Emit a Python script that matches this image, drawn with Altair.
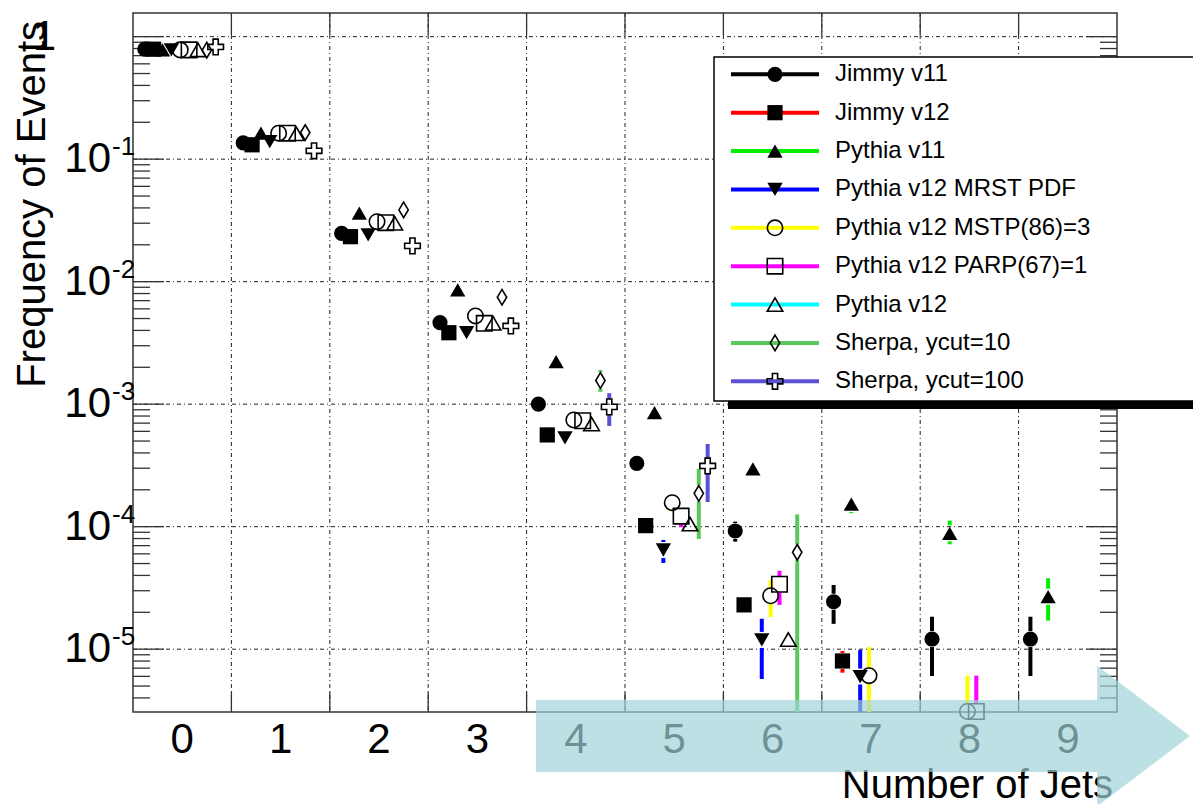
import altair as alt
import pandas as pd

# ---- data -------------------------------------------------------------
n_jets = list(range(10))

series = [
    "Jimmy v11", "Jimmy v12", "Pythia v11", "Pythia v12 MRST PDF",
    "Pythia v12 MSTP(86)=3", "Pythia v12 PARP(67)=1", "Pythia v12",
    "Sherpa, ycut=10", "Sherpa, ycut=100",
]

freq_jimmy_v11 = [0.79, 0.136, 0.0248, 4.63e-3, 1.00e-3, 3.29e-4, 9.22e-5, 2.44e-5, 1.21e-5, 1.21e-5]
freq_jimmy_v12 = [0.79, 0.131, 0.0233, 3.83e-3, 5.61e-4, 1.02e-4, 2.30e-5, 8.01e-6, None, None]
freq_pythia_v11 = [0.78, 0.163, 0.0362, 8.56e-3, 2.22e-3, 8.53e-4, 2.96e-4, 1.53e-4, 8.83e-5, 2.68e-5]
freq_pythia_mrst = [0.78, 0.139, 0.0241, 3.83e-3, 5.30e-4, 6.45e-5, 1.19e-5, 5.97e-6, None, None]
freq_pythia_mstp = [0.78, 0.163, 0.0309, 5.25e-3, 7.43e-4, 1.57e-4, 2.73e-5, 6.08e-6, 3.1e-6, None]
freq_pythia_parp = [0.78, 0.163, 0.0303, 4.57e-3, 7.33e-4, 1.22e-4, 3.39e-5, None, 3.1e-6, None]
freq_pythia_v12 = [0.78, 0.161, 0.0300, 4.57e-3, 6.89e-4, 1.05e-4, 1.20e-5, None, None, None]
freq_sherpa_10 = [0.775, 0.165, 0.0385, 7.46e-3, 1.56e-3, 1.87e-4, 6.18e-5, None, None, None]
freq_sherpa_100 = [0.824, 0.117, 0.0196, 4.35e-3, 9.5e-4, 3.13e-4, None, None, None, None]

# upper / lower ends of the statistical error bars (None = hidden by the marker)
hi_jimmy_v11 = [None, None, None, None, None, None, 1.10e-4, 3.34e-5, 1.84e-5, 1.84e-5]
lo_jimmy_v11 = [None, None, None, None, None, None, 7.55e-5, 1.61e-5, 6.04e-6, 6.04e-6]
hi_jimmy_v12 = [None, None, None, None, None, None, None, 9.67e-6, None, None]
lo_jimmy_v12 = [None, None, None, None, None, None, None, 6.43e-6, None, None]
hi_pythia_v11 = [None, None, None, None, None, None, None, None, 1.12e-4, 3.79e-5]
lo_pythia_v11 = [None, None, None, None, None, None, None, 1.29e-4, 7.18e-5, 1.71e-5]
hi_pythia_mrst = [None, None, None, None, None, 7.79e-5, 1.77e-5, 9.86e-6, None, None]
lo_pythia_mrst = [None, None, None, None, None, 5.06e-5, 5.71e-6, 1e-7, None, None]
hi_pythia_mstp = [None, None, None, None, None, None, 3.67e-5, 1.04e-5, 6.08e-6, None]
lo_pythia_mstp = [None, None, None, None, None, 1.33e-4, 1.83e-5, 1e-7, 1e-7, None]
hi_pythia_parp = [None, None, None, None, None, None, 4.37e-5, None, 6.08e-6, None]
lo_pythia_parp = [None, None, None, None, None, 9.9e-5, 2.30e-5, None, 1e-7, None]
hi_pythia_v12 = [None] * 10
lo_pythia_v12 = [None] * 10
hi_sherpa_10 = [None, None, None, None, 1.90e-3, 2.96e-4, 1.26e-4, None, None, None]
lo_sherpa_10 = [None, None, None, None, 1.26e-3, 7.94e-5, 1e-7, None, None, None]
hi_sherpa_100 = [None, None, None, None, 1.23e-3, 4.73e-4, None, None, None, None]
lo_sherpa_100 = [None, None, None, None, 6.64e-4, 1.59e-4, None, None, None, None]

freqs = [freq_jimmy_v11, freq_jimmy_v12, freq_pythia_v11, freq_pythia_mrst, freq_pythia_mstp,
         freq_pythia_parp, freq_pythia_v12, freq_sherpa_10, freq_sherpa_100]
his = [hi_jimmy_v11, hi_jimmy_v12, hi_pythia_v11, hi_pythia_mrst, hi_pythia_mstp,
       hi_pythia_parp, hi_pythia_v12, hi_sherpa_10, hi_sherpa_100]
los = [lo_jimmy_v11, lo_jimmy_v12, lo_pythia_v11, lo_pythia_mrst, lo_pythia_mstp,
       lo_pythia_parp, lo_pythia_v12, lo_sherpa_10, lo_sherpa_100]

# ---- styles -----------------------------------------------------------
colors = ["#000000", "#ff0000", "#00ee00", "#0000ff", "#ffff00",
          "#ff00ff", "#00ffff", "#5ac85a", "#5a50d2"]
DIAMOND = "M0,-1L0.6,0L0,1L-0.6,0Z"
CROSS = ("M-0.33,-1H0.33V-0.33H1V0.33H0.33V1H-0.33V0.33H-1V-0.33H-0.33Z")
shapes = ["circle", "square", "triangle-up", "triangle-down", "circle",
          "square", "triangle-up", DIAMOND, CROSS]
sizes = [230, 245, 210, 210, 270, 256, 300, 310, 256]
filled = [True, True, True, True, False, False, False, False, False]

FONT = "Liberation Sans"
W, H = 984, 699
GAP = 8  # error bars stop at the marker edge

# ---- tables -----------------------------------------------------------
rows, up_rows, dn_rows = [], [], []
for i, name in enumerate(series):
    for k in n_jets:
        v = freqs[i][k]
        if v is None:
            continue
        x = k - 0.38 + 0.09 * i
        rows.append({"series": name, "x": x, "v": v, "filled": filled[i]})
        if his[i][k] is not None:
            up_rows.append({"series": name, "x": x, "v": v, "hi": his[i][k]})
        if los[i][k] is not None:
            dn_rows.append({"series": name, "x": x, "v": v, "lo": los[i][k]})
pts = pd.DataFrame(rows)
up = pd.DataFrame(up_rows)
dn = pd.DataFrame(dn_rows)

edges = pd.DataFrame({"e": [k + 0.5 for k in range(9)]})
decades = [1e-5, 1e-4, 1e-3, 1e-2, 1e-1, 1.0]
dec_df = pd.DataFrame({"v": decades})
minor_vals = [m * 10.0 ** p for p in range(-6, 1) for m in range(2, 10)]
minor_vals = [t for t in minor_vals if 3.07e-6 <= t <= 1.56]
minor_df = pd.DataFrame({"v": minor_vals})
ylab_df = pd.DataFrame({"v": decades[:-1], "base": ["10"] * 5,
                        "exp": ["-5", "-4", "-3", "-2", "-1"]})
one_df = pd.DataFrame({"v": [1.0], "t": ["1"]})
xlab_df = pd.DataFrame({"n": n_jets, "t": [str(k) for k in n_jets]})
leg_df = pd.DataFrame({"series": series, "row": list(range(len(series))),
                       "filled": filled})
one = pd.DataFrame({"k": [0]})

# ---- scales -----------------------------------------------------------
xs = alt.Scale(domain=[-0.5, 9.5], nice=False, zero=False)
ys = alt.Scale(type="log", domain=[3.07e-6, 1.56], nice=False)
color_scale = alt.Scale(domain=series, range=colors)
shape_scale = alt.Scale(domain=series, range=shapes)
size_scale = alt.Scale(domain=series, range=sizes)


def X(f):
    return alt.X(f"{f}:Q", scale=xs, axis=None)


def Y(f):
    return alt.Y(f"{f}:Q", scale=ys, axis=None)


GRID = dict(stroke="#222222", strokeWidth=1, strokeDash=[4, 3, 1, 3])
TICK = dict(stroke="#333333", strokeWidth=1.3)

vgrid = alt.Chart(edges).mark_rule(**GRID).encode(x=X("e"), y=alt.value(0), y2=alt.value(H))
hgrid = alt.Chart(dec_df).mark_rule(**GRID).encode(y=Y("v"), x=alt.value(0), x2=alt.value(W))

tick_bot = alt.Chart(edges).mark_rule(**TICK).encode(x=X("e"), y=alt.value(H), y2=alt.value(H - 20))
tick_top = alt.Chart(edges).mark_rule(**TICK).encode(x=X("e"), y=alt.value(0), y2=alt.value(22))
tick_lmaj = alt.Chart(dec_df).mark_rule(**TICK).encode(y=Y("v"), x=alt.value(0), x2=alt.value(31))
tick_lmin = alt.Chart(minor_df).mark_rule(**TICK).encode(y=Y("v"), x=alt.value(0), x2=alt.value(17))
tick_rmaj = alt.Chart(dec_df).mark_rule(**TICK).encode(y=Y("v"), x=alt.value(W), x2=alt.value(W - 31))
tick_rmin = alt.Chart(minor_df).mark_rule(**TICK).encode(y=Y("v"), x=alt.value(W), x2=alt.value(W - 17))

col = alt.Color("series:N", scale=color_scale, legend=None)
err_up = alt.Chart(up).mark_rule(strokeWidth=4, clip=True, yOffset=-GAP).encode(
    x=X("x"), y=Y("v"), y2=alt.Y2("hi:Q"), color=col)
err_dn = alt.Chart(dn).mark_rule(strokeWidth=4, clip=True, y2Offset=GAP).encode(
    x=X("x"), y=Y("lo"), y2=alt.Y2("v:Q"), color=col)

shp = alt.Shape("series:N", scale=shape_scale, legend=None)
siz = alt.Size("series:N", scale=size_scale, legend=None)
mk_filled = alt.Chart(pts[pts["filled"]]).mark_point(
    filled=True, color="black", opacity=1).encode(x=X("x"), y=Y("v"), shape=shp, size=siz)
mk_open = alt.Chart(pts[~pts["filled"]]).mark_point(
    filled=False, color="black", strokeWidth=1.6, opacity=1).encode(
    x=X("x"), y=Y("v"), shape=shp, size=siz)

# axis labels and titles
ylab_base = alt.Chart(ylab_df).mark_text(
    font=FONT, fontSize=42, align="right", baseline="middle", color="black").encode(
    x=alt.value(-22), y=Y("v"), text="base:N")
ylab_exp = alt.Chart(ylab_df).mark_text(
    font=FONT, fontSize=26, align="left", baseline="alphabetic", dy=-4, color="black").encode(
    x=alt.value(-21), y=Y("v"), text="exp:N")
ylab_one = alt.Chart(one_df).mark_text(
    font=FONT, fontSize=42, align="right", baseline="middle", color="black").encode(
    x=alt.value(-77), y=Y("v"), text="t:N")
xlab = alt.Chart(xlab_df).mark_text(
    font=FONT, fontSize=42, align="center", baseline="alphabetic", color="black").encode(
    x=X("n"), y=alt.value(H + 41), text="t:N")
ytitle = alt.Chart(one).mark_text(
    font=FONT, fontSize=40, angle=270, align="right", baseline="alphabetic", color="black").encode(
    x=alt.value(-88), y=alt.value(8), text=alt.value("Frequency of Events"))
xtitle = alt.Chart(one).mark_text(
    font=FONT, fontSize=40, align="right", baseline="alphabetic", color="black").encode(
    x=alt.value(980), y=alt.value(785), text=alt.value("Number of Jets"))

main = alt.layer(vgrid, hgrid, tick_bot, tick_top, tick_lmaj, tick_lmin, tick_rmaj, tick_rmin,
                 err_up, err_dn, mk_filled, mk_open,
                 ylab_base, ylab_exp, ylab_one, xlab, ytitle, xtitle)

# ---- legend -----------------------------------------------------------
ly = alt.Y("row:Q", scale=alt.Scale(domain=[0, 8], range=[61.3, 368.3]), axis=None)
leg_shadow = alt.Chart(one).mark_rect(color="black").encode(
    x=alt.value(595), x2=alt.value(1090), y=alt.value(386), y2=alt.value(396))
leg_box = alt.Chart(one).mark_rect(fill="white", stroke="black", strokeWidth=1.5).encode(
    x=alt.value(581), x2=alt.value(1090), y=alt.value(44), y2=alt.value(388))
leg_line = alt.Chart(leg_df).mark_rule(strokeWidth=4).encode(
    x=alt.value(598), x2=alt.value(686), y=ly, color=col)
leg_mk_f = alt.Chart(leg_df[leg_df["filled"]]).mark_point(
    filled=True, color="black", opacity=1).encode(x=alt.value(642), y=ly, shape=shp, size=siz)
leg_mk_o = alt.Chart(leg_df[~leg_df["filled"]]).mark_point(
    filled=False, color="black", strokeWidth=1.6, opacity=1).encode(
    x=alt.value(642), y=ly, shape=shp, size=siz)
leg_txt = alt.Chart(leg_df).mark_text(
    font=FONT, fontSize=24, align="left", baseline="middle", color="black").encode(
    x=alt.value(702), y=ly, text="series:N")
legend = alt.layer(leg_shadow, leg_box, leg_line, leg_mk_f, leg_mk_o, leg_txt)

# ---- translucent arrow over the upper jet bins ------------------------
ARROW = "M-1,-0.11L0.716,-0.11L0.716,-0.215L1,0L0.716,0.215L0.716,0.11L-1,0.11Z"
arrow = alt.Chart(one).mark_point(
    shape=ARROW, size=654 ** 2, filled=True, color="#a0d2d8", opacity=0.69, strokeWidth=0).encode(
    x=alt.value(730), y=alt.value(723))

chart = alt.layer(main, legend, arrow).resolve_scale(y="independent").properties(
    width=W, height=H,
    autosize=alt.AutoSizeParams(type="none"),
    padding={"left": 133, "top": 13, "right": 76, "bottom": 92},
    background="white",
).configure_view(stroke="#333333", strokeWidth=1.5)

chart.save("out.html", embed_options={"renderer": "svg", "actions": False})
